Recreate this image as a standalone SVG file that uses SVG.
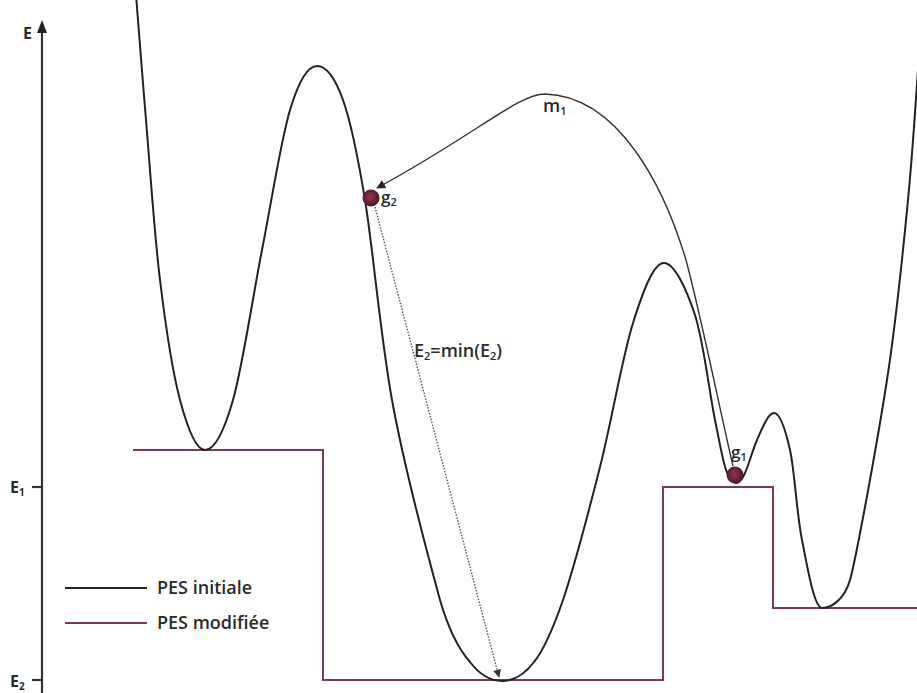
<svg xmlns="http://www.w3.org/2000/svg" width="917" height="693" viewBox="0 0 917 693">
<style>
.txt{font-family:"Open Sans","Liberation Sans",sans-serif;font-weight:600;fill:#2a2a2a}
.ax{font-family:"Open Sans","Liberation Sans",sans-serif;font-weight:700;fill:#2a2a2a}
.pes0{fill:none;stroke:#222;stroke-width:2;stroke-linejoin:round}
.pes1{fill:none;stroke:#7d3b48;stroke-width:2}
.axis{fill:none;stroke:#333;stroke-width:2.2}
.arc{fill:none;stroke:#333;stroke-width:1.4}
.dot{fill:none;stroke:#555;stroke-width:1.4;stroke-dasharray:1.5 1.5}
</style>
<defs>
<marker id="ah" viewBox="0 0 10 10" refX="9" refY="5" markerWidth="10" markerHeight="9" markerUnits="userSpaceOnUse" orient="auto">
<path d="M0,0 L10,5 L0,10 z" fill="#222"/>
</marker>
<marker id="ah2" viewBox="0 0 10 10" refX="9" refY="5" markerWidth="10" markerHeight="8" markerUnits="userSpaceOnUse" orient="auto">
<path d="M0,0 L10,5 L0,10 z" fill="#333"/>
</marker>
<radialGradient id="ball" cx="45%" cy="45%" r="60%">
<stop offset="0" stop-color="#8e3a4e"/>
<stop offset="1" stop-color="#4a0f1e"/>
</radialGradient>
</defs>
<rect width="917" height="693" fill="#fff"/>

<g id="axis">
<line class="axis" x1="42" y1="693" x2="42" y2="30"/>
<path d="M42,20 L37,33 L47,33 z" fill="#222"/>
<line class="axis" x1="32" y1="487" x2="42" y2="487"/>
<line class="axis" x1="32" y1="680" x2="42" y2="680"/>
<text class="ax" x="23" y="39" font-size="16">E</text>
<text class="ax" x="10" y="493" font-size="16">E<tspan font-size="10" dy="3">1</tspan></text>
<text class="ax" x="10" y="687" font-size="16">E<tspan font-size="10" dy="3">2</tspan></text>
</g>

<g id="pes-modifiee">
<path class="pes1" d="M133,450 H323 V680 H663 V487 H773 V608 H917"/>
</g>

<g id="pes-initiale">
<path class="pes0" d="M136,-5 C137.7,15.8 142,72.5 146,120 C150,167.5 154.3,233.3 160,280 C165.7,326.7 172.5,371.7 180,400 C187.5,428.3 196.2,450 205,450 C213.8,450 223.5,433.3 233,400 C242.5,366.7 252.5,298.3 262,250 C271.5,201.7 280.8,140.7 290,110 C299.2,79.3 308.2,66 317,66 C325.8,66 335,77.7 343,100 C351,122.3 356.8,150 365,200 C373.2,250 380,333.3 392,400 C403,461 425,545 440,600 C447,624 458,648.5 470,662 C480.3,675.5 491.3,681 502,681 C512.7,681 523.8,675.5 534,662 C545,648.5 554,626 563,600 C574,567.5 588.3,513.2 600,467 C611.7,420.8 622.3,357 633,323 C643.7,289 653.7,263 664,263 C674.3,263 686.2,288.3 695,315 C703.8,341.7 710,398 716,425 C722,454 726,483 736,483 C745,483 750,456 757,440 C763.5,425 768.5,413 774,413 C779.5,413 785.3,428.8 790,450 C794.7,471.2 796.7,513.7 802,540 C807.3,566.3 814,608 822,608 C830,608 844,601 850,580 C856,559 877.3,442.5 887,380 C896.7,317.5 902.5,256.7 908,200 C913.5,143.3 918,67 920,40"/>
</g>

<g id="connectors">
<path id="m1" class="arc" d="M733,466 C722,420 702,320 686,260 C665,190 620,96 545,94 C518,94 475,135 377,188" marker-end="url(#ah)"/>
<path id="e2-arrow" class="dot" d="M375,207 L499,677" marker-end="url(#ah2)"/>
</g>

<g id="g2">
<circle cx="371" cy="198" r="8.5" fill="url(#ball)"/>
<text class="txt" x="381" y="203" font-size="17">g<tspan font-size="11" dy="3">2</tspan></text>
</g>

<g id="g1">
<circle cx="735" cy="475" r="8.5" fill="url(#ball)"/>
<text class="txt" x="731" y="458" font-size="17">g<tspan font-size="11" dy="3">1</tspan></text>
</g>

<g id="labels">
<text class="txt" x="543" y="112" font-size="18">m<tspan font-size="11" dy="3">1</tspan></text>
<text class="txt" x="414" y="357" font-size="18">E<tspan font-size="11" dy="3">2</tspan><tspan dy="-3">=min(E</tspan><tspan font-size="11" dy="3">2</tspan><tspan dy="-3">)</tspan></text>
</g>

<g id="legend">
<line x1="65" y1="588" x2="147" y2="588" stroke="#222" stroke-width="2"/>
<text class="txt" x="157" y="594" font-size="18">PES initiale</text>
<line x1="65" y1="623" x2="147" y2="623" stroke="#7d3b48" stroke-width="2"/>
<text class="txt" x="157" y="629" font-size="18">PES modifiée</text>
</g>
</svg>
